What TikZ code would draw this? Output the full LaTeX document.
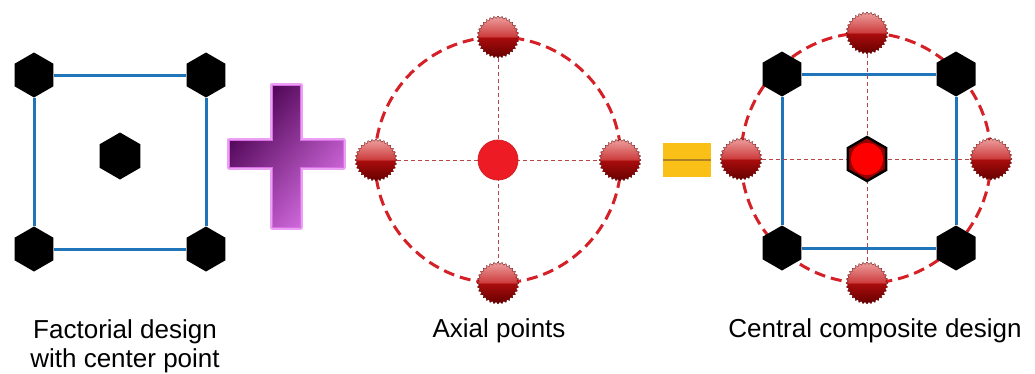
\documentclass[tikz,border=0pt]{standalone}
\usepackage{fontspec}
\setmainfont{Liberation Sans}
\usetikzlibrary{shapes.geometric}

\definecolor{gridblue}{RGB}{31,116,186}
\definecolor{ringred}{RGB}{212,32,38}
\definecolor{axisred}{RGB}{185,70,70}
\definecolor{dotred}{RGB}{237,28,36}
\definecolor{glossTop}{RGB}{238,160,160}
\definecolor{glossUp}{RGB}{205,62,62}
\definecolor{glossLow}{RGB}{168,12,12}
\definecolor{glossBot}{RGB}{100,0,0}
\definecolor{plusDark}{RGB}{72,0,78}
\definecolor{plusLight}{RGB}{215,110,228}
\definecolor{plusGlow}{RGB}{236,160,244}
\definecolor{eqOrange}{RGB}{250,192,24}
\definecolor{eqLine}{RGB}{176,128,36}
\definecolor{hexRed}{RGB}{150,0,0}

% glossy two-tone shading for the axial points
\pgfdeclareverticalshading{gloss}{100bp}{color(0bp)=(glossBot); color(25bp)=(glossBot); color(49bp)=(glossLow); color(51bp)=(glossUp); color(75bp)=(glossTop); color(100bp)=(glossTop)}

\begin{document}
\begin{tikzpicture}[x=1pt,y=-1pt,
  hexa/.style={regular polygon, regular polygon sides=6, shape border rotate=30,
    fill=black, minimum size=45pt, inner sep=0pt},
  edge/.style={draw=gridblue, line width=3pt},
  dashring/.style={draw=ringred, line width=3pt, dash pattern=on 11pt off 6pt},
  axisline/.style={draw=axisred, line width=0.9pt, dash pattern=on 4pt off 3pt},
  axial/.style={star, star points=32, star point ratio=1.12, minimum size=42pt,
    inner sep=0pt, shading=gloss, draw=glossBot, line width=0.3pt},
  hubdot/.style={circle, minimum size=40pt, inner sep=0pt, fill=dotred, draw=ringred, line width=0.8pt},
  caption/.style={font=\fontsize{26}{29}\selectfont, align=center, anchor=base, inner sep=0pt}
]
\useasboundingbox (0,0) rectangle (1035,373);

% ---- factorial design with a center point ----
\node[hexa] (f1) at (34,75) {};
\node[hexa] (f2) at (206,75) {};
\node[hexa] (f3) at (206,249) {};
\node[hexa] (f4) at (34,249) {};
\draw[edge] (f1) -- (f2) (f2) -- (f3) (f3) -- (f4) (f4) -- (f1);
\node[hexa, minimum size=47pt] (f0) at (120,156) {};

% ---- plus sign ----
\draw[plusGlow, line width=5pt, line join=round]
  (272,85) -- (300,85) -- (300,140) -- (343,140) -- (343,167) -- (300,167) -- (300,227)
  -- (272,227) -- (272,167) -- (229,167) -- (229,140) -- (272,140) -- cycle;
\shade[top color=plusDark, bottom color=plusLight, shading angle=50, draw=plusLight, line width=1pt]
  (272,85) -- (300,85) -- (300,140) -- (343,140) -- (343,167) -- (300,167) -- (300,227)
  -- (272,227) -- (272,167) -- (229,167) -- (229,140) -- (272,140) -- cycle;

% ---- axial points ----
\coordinate (ma) at (498,160);
\draw[dashring] (ma) circle[radius=123];
\node[axial] (aL) at (376,160) {};
\node[axial] (aR) at (620,160) {};
\node[axial] (aT) at (498,37) {};
\node[axial] (aB) at (498,283) {};
\draw[axisline] (aL) -- (aR);
\draw[axisline] (aT) -- (aB);
\node[hubdot] (a0) at (ma) {};

% ---- equals sign ----
\node[fill=eqOrange, minimum width=48pt, minimum height=34pt, inner sep=0pt] (eq) at (687,160) {};
\draw[eqLine, line width=2pt] (eq.west) -- (eq.east);

% ---- central composite design ----
\coordinate (mc) at (866,158);
\draw[dashring] (mc) circle[radius=125];
\node[hexa] (c1) at (782,74) {};
\node[hexa] (c2) at (956,74) {};
\node[hexa] (c3) at (956,248) {};
\node[hexa] (c4) at (782,248) {};
\draw[edge] (c1) -- (c2) (c2) -- (c3) (c3) -- (c4) (c4) -- (c1);
\node[axial] (cL) at (741,159) {};
\node[axial] (cR) at (991,159) {};
\node[axial] (cT) at (867,33) {};
\node[axial] (cB) at (867,283) {};
\draw[axisline] (cL) -- (cR);
\draw[axisline] (cT) -- (cB);
\node[hexa, fill=hexRed, draw=black, line width=2.5pt, minimum size=44pt] (c0) at (867,159) {};
\node[circle, fill=red, minimum size=32pt, inner sep=0pt] (c0dot) at (c0) {};

% ---- captions ----
\node[caption] (t1) at (125,367) {Factorial design\\with center point};
\node[caption] (t2) at (499,337) {Axial points};
\node[caption] (t3) at (875,337) {Central composite design};
\end{tikzpicture}
\end{document}
